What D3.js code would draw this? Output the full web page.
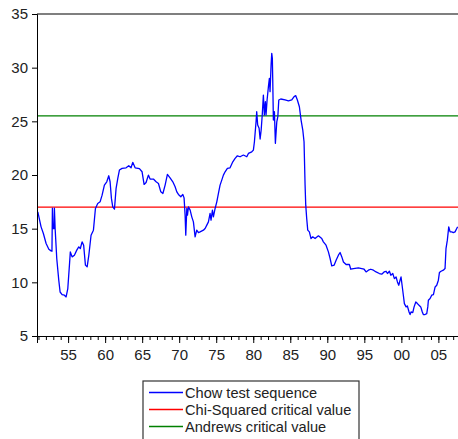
<!DOCTYPE html>
<html>
<head>
<meta charset="utf-8">
<script src="https://cdn.jsdelivr.net/npm/d3@7"></script>
<style>
  body { margin: 0; background: #fff; }
  svg { display: block; }
</style>
</head>
<body>
<div id="chart"></div>
<script>

// chow test sequence (year, statistic)

var chowYears = [
	1950.91, 1951.35, 1951.66, 1952.03, 1952.4, 1952.7, 1952.82, 1952.88, 1952.95, 1953.1,
	1953.15, 1953.25, 1953.47, 1953.74, 1953.92, 1954.19, 1954.5, 1954.73, 1954.96, 1955.18,
	1955.3, 1955.54, 1955.85, 1956.17, 1956.44, 1956.65, 1956.89, 1957.1, 1957.34, 1957.57,
	1957.8, 1958.1, 1958.42, 1958.69, 1959.0, 1959.32, 1959.59, 1959.9, 1960.22, 1960.49,
	1960.67, 1960.85, 1961.03, 1961.26, 1961.48, 1961.71, 1961.93, 1962.29, 1962.83, 1963.19,
	1963.5, 1963.73, 1964.05, 1964.63, 1964.99, 1965.26, 1965.53, 1965.84, 1966.07, 1966.52,
	1966.88, 1967.2, 1967.52, 1967.8, 1968.1, 1968.41, 1968.77, 1969.14, 1969.45, 1969.68,
	1969.9, 1970.22, 1970.49, 1970.66, 1970.8, 1970.89, 1971.03, 1971.12, 1971.25, 1971.48,
	1971.7, 1971.92, 1972.15, 1972.37, 1972.6, 1972.82, 1973.27, 1973.5, 1973.73, 1973.95,
	1974.17, 1974.3, 1974.49, 1974.62, 1974.85, 1975.08, 1975.3, 1975.52, 1975.75, 1975.97,
	1976.2, 1976.51, 1976.87, 1977.24, 1977.55, 1977.86, 1978.22, 1978.67, 1979.13, 1979.35,
	1979.8, 1980.02, 1980.16, 1980.38, 1980.47, 1980.6, 1980.79, 1980.93, 1981.07, 1981.23,
	1981.37, 1981.5, 1981.64, 1981.73, 1981.87, 1982.05, 1982.18, 1982.27, 1982.41, 1982.5,
	1982.58, 1982.63, 1982.72, 1982.86, 1982.99, 1983.18, 1983.32, 1983.45, 1983.72, 1984.3,
	1984.75, 1985.2, 1985.52, 1985.74, 1985.96, 1986.23, 1986.46, 1986.69, 1986.86, 1987.0,
	1987.09, 1987.22, 1987.36, 1987.58, 1987.8, 1988.03, 1988.35, 1988.8, 1989.25, 1989.47,
	1989.83, 1990.15, 1990.38, 1990.6, 1990.92, 1991.19, 1991.5, 1991.73, 1991.96, 1992.18,
	1992.54, 1992.98, 1993.17, 1993.53, 1994.2, 1994.65, 1994.97, 1995.24, 1995.55, 1995.87,
	1996.23, 1996.59, 1997.03, 1997.35, 1997.67, 1997.94, 1998.12, 1998.39, 1998.58, 1998.84,
	1999.06, 1999.29, 1999.47, 1999.65, 1999.83, 1999.96, 2000.1, 2000.27, 2000.41, 2000.64,
	2000.81, 2001.04, 2001.18, 2001.31, 2001.54, 2001.72, 2001.95, 2002.17, 2002.39, 2002.62,
	2002.83, 2002.97, 2003.2, 2003.43, 2003.57, 2003.65, 2003.88, 2004.1, 2004.33, 2004.56,
	2004.78, 2005.0, 2005.14, 2005.36, 2005.67, 2005.9, 2006.03, 2006.21, 2006.4, 2006.58,
	2006.8, 2007.02, 2007.25, 2007.48, 2007.6
];

var chowValues = [
	16.57, 15.17, 14.55, 13.62, 13.09, 12.93, 12.9, 16.9, 15.0, 15.0,
	16.9, 15.0, 12.2, 10.2, 9.1, 8.86, 8.8, 8.64, 9.42, 11.6,
	12.84, 12.37, 12.53, 13.0, 13.3, 13.15, 13.77, 13.46, 11.6, 11.44,
	12.53, 14.39, 14.86, 16.88, 17.35, 17.5, 18.12, 19.06, 19.37, 19.93,
	19.37, 17.82, 17.03, 16.82, 18.75, 19.68, 20.46, 20.62, 20.67, 20.86,
	20.67, 21.18, 20.67, 20.6, 20.3, 19.12, 19.3, 19.99, 19.62, 19.62,
	19.37, 19.21, 18.43, 18.28, 19.06, 20.05, 19.74, 19.37, 18.9, 18.43,
	18.19, 17.97, 18.19, 17.87, 16.26, 14.39, 16.88, 16.26, 17.03, 16.73,
	16.1, 15.63, 14.24, 14.86, 14.64, 14.7, 14.86, 15.02, 15.33, 15.63,
	16.42, 15.8, 16.73, 16.1, 16.88, 17.5, 18.28, 19.06, 19.52, 19.99,
	20.3, 20.61, 20.67, 21.23, 21.55, 21.79, 21.7, 21.86, 21.7, 22.01,
	22.16, 22.32, 23.1, 24.96, 25.9, 24.65, 24.35, 23.35, 24.19, 25.75,
	27.45, 25.59, 26.83, 25.59, 26.99, 28.23, 29.01, 27.76, 30.25, 31.34,
	30.88, 29.01, 25.12, 25.9, 22.95, 24.96, 25.43, 26.99, 27.08, 26.99,
	26.9, 26.99, 27.3, 27.39, 26.99, 26.36, 25.12, 24.19, 23.1, 19.06,
	17.19, 15.95, 14.86, 14.7, 14.08, 14.24, 14.08, 14.33, 14.08, 13.77,
	13.46, 12.84, 12.22, 11.53, 11.6, 12.06, 12.53, 12.78, 12.37, 11.9,
	11.66, 11.66, 11.22, 11.28, 11.34, 11.28, 11.22, 10.97, 11.13, 11.22,
	11.13, 10.97, 10.82, 10.76, 10.97, 11.03, 10.82, 11.03, 10.66, 10.82,
	10.35, 10.5, 10.04, 9.73, 10.2, 10.5, 9.73, 8.8, 8.02, 7.71,
	7.8, 7.24, 7.0, 7.24, 7.18, 7.71, 8.17, 8.02, 7.86, 7.71,
	7.24, 7.0, 7.0, 7.09, 7.71, 8.33, 8.49, 8.8, 8.86, 9.57,
	9.73, 10.2, 10.91, 11.03, 11.13, 11.28, 13.15, 13.93, 15.17, 14.7,
	14.7, 14.64, 14.7, 15.02, 15.17
];

// critical values (flat lines)
var chiSquaredValue = 17;
var andrewsValue = 25.5;

// axis ticks
var yTicks = [5, 10, 15, 20, 25, 30, 35];
var xMajorTicks = [1955, 1960, 1965, 1970, 1975, 1980, 1985, 1990, 1995, 2000, 2005];
var xTickLabels = ["55", "60", "65", "70", "75", "80", "85", "90", "95", "00", "05"];
var xMinorTicks = d3.range(1951, 2008);

var legendLabels = ["Chow test sequence", "Chi-Squared critical value", "Andrews critical value"];
var legendColors = ["#0000ff", "#ff0000", "#008000"];


// set up the svg

var w = 458;
var h = 439;
var font = "'Liberation Sans', Arial, sans-serif";

var svg = d3.select("#chart")
	.append("svg")
	.attr("width", w)
	.attr("height", h);

// plot edges (window.top is taken, so prefixed names)
var plotLeft = 37, plotRight = 458, plotTop = 14, plotBottom = 336;

var x = d3.scaleLinear().domain([1950.8, 2007.65]).range([plotLeft, plotRight]);
var y = d3.scaleLinear().domain([5, 35]).range([plotBottom, plotTop]);


// frame: top edge only shows, right edge is cut off

svg.append("line")
	.attr("x1", plotLeft).attr("x2", w + 2)
	.attr("y1", plotTop).attr("y2", plotTop)
	.attr("stroke", "#555")
	.attr("stroke-width", 1.5);


// critical value lines, under the data

var hline = function(v, color) {
	svg.append("line")
		.attr("x1", plotLeft).attr("x2", plotRight)
		.attr("y1", y(v)).attr("y2", y(v))
		.attr("stroke", color)
		.attr("stroke-width", 1.3);
};
hline(chiSquaredValue, legendColors[1]);
hline(andrewsValue, legendColors[2]);


// the chow sequence

var line = d3.line()
	.x(function(d, i) { return x(chowYears[i]); })
	.y(function(d) { return y(d); });

svg.append("path")
	.datum(chowValues)
	.attr("d", line)
	.attr("fill", "none")
	.attr("stroke", legendColors[0])
	.attr("stroke-width", 1.3)
	.attr("stroke-linejoin", "round");


// y axis

var yAxis = d3.axisLeft(y)
	.tickValues(yTicks)
	.tickSize(5)
	.tickPadding(4)
	.tickFormat(d3.format("d"));

var yg = svg.append("g")
	.attr("transform", "translate(" + plotLeft + ",0)")
	.call(yAxis);
yg.selectAll("text")
	.attr("font-family", font)
	.attr("font-size", "15px")
	.attr("fill", "#222");


// x axis: minor ticks every year, labelled ticks every five

var xMinor = d3.axisBottom(x)
	.tickValues(xMinorTicks)
	.tickSize(4)
	.tickFormat("");

svg.append("g")
	.attr("transform", "translate(0," + plotBottom + ")")
	.call(xMinor);

var xAxis = d3.axisBottom(x)
	.tickValues(xMajorTicks)
	.tickSize(7)
	.tickPadding(6)
	.tickFormat(function(d, i) { return xTickLabels[i]; });

var xg = svg.append("g")
	.attr("transform", "translate(0," + plotBottom + ")")
	.call(xAxis);
xg.selectAll("text")
	.attr("font-family", font)
	.attr("font-size", "15px")
	.attr("fill", "#222");

svg.selectAll(".domain").attr("stroke", "#000");


// legend box at the bottom

var legend = svg.append("g").attr("transform", "translate(143,381)");

legend.append("rect")
	.attr("x", 0).attr("y", 0)
	.attr("width", 216).attr("height", 62)
	.attr("fill", "#fff")
	.attr("stroke", "#333")
	.attr("stroke-width", 1.2);

var rows = legend.selectAll(".row")
	.data(legendLabels)
	.enter()
	.append("g")
	.attr("class", "row")
	.attr("transform", function(d, i) { return "translate(0," + (11.5 + i * 17) + ")"; });

rows.append("line")
	.attr("x1", 6).attr("x2", 40)
	.attr("y1", 0).attr("y2", 0)
	.attr("stroke", function(d, i) { return legendColors[i]; })
	.attr("stroke-width", 1.3);

rows.append("text")
	.attr("x", 42)
	.attr("y", 5.5)
	.text(function(d) { return d; })
	.attr("font-family", font)
	.attr("font-size", "14.6px")
	.attr("fill", "#222");

</script>
</body>
</html>
